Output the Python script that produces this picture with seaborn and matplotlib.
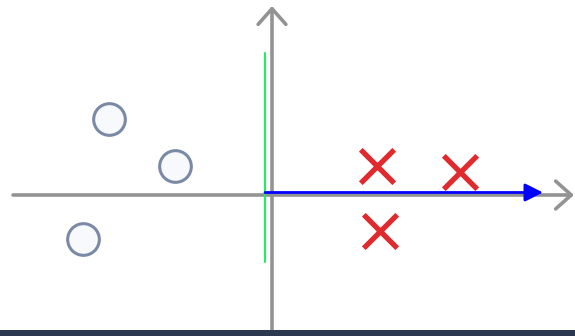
import pandas as pd
import matplotlib.pyplot as plt
import seaborn as sns
from matplotlib.patches import Rectangle

# points, origin at the axis crossing
circle_x = [-3.26, -1.95, -3.78]
circle_y = [1.52, 0.58, -0.88]
cross_x = [2.09, 3.75, 2.16]
cross_y = [0.58, 0.46, -0.72]

# separating line and normal vector
line_x = -0.15
line_y = [-1.34, 2.84]
normal_start = [-0.14, 0.05]
normal_end = [5.42, 0.05]

circles = pd.DataFrame({"x": circle_x, "y": circle_y})
crosses = pd.DataFrame({"x": cross_x, "y": cross_y})

sns.set_style("white")
fig = plt.figure(figsize=(5.75, 3.36), dpi=100)
ax = fig.add_axes([0, 0, 1, 1])
ax.set_xlim(-5.44, 6.06)
ax.set_ylim(-2.82, 3.9)
ax.axis("off")

gray = "#939393"
# x axis
ax.annotate("", xy=(6.04, 0), xytext=(-5.18, 0),
            arrowprops=dict(arrowstyle="->,head_length=0.45,head_width=0.4",
                            color=gray, lw=2.6, mutation_scale=25,
                            shrinkA=0, shrinkB=0), zorder=1)
# y axis
ax.annotate("", xy=(0, 3.78), xytext=(0, -2.75),
            arrowprops=dict(arrowstyle="->,head_length=0.45,head_width=0.4",
                            color=gray, lw=2.6, mutation_scale=25,
                            shrinkA=0, shrinkB=0), zorder=1)

ax.plot([line_x, line_x], line_y, color="#22ec66", lw=1.5, zorder=2)
ax.annotate("", xy=normal_end, xytext=normal_start,
            arrowprops=dict(arrowstyle="-|>,head_length=0.6,head_width=0.3",
                            color="#0000ff", lw=2.0, mutation_scale=18,
                            shrinkA=0, shrinkB=0), zorder=3)

sns.scatterplot(data=circles, x="x", y="y", ax=ax, marker="o", s=520,
                facecolor="#f7f9fd", edgecolor="#7a89a6", linewidth=2.2,
                zorder=4, legend=False)
sns.scatterplot(data=crosses, x="x", y="y", ax=ax, marker="x", s=580,
                color="#e02a2e", linewidth=3.8, zorder=4, legend=False)

fig.add_artist(Rectangle((0, 0), 1, 6 / 336, transform=fig.transFigure,
                         facecolor="#2b3850", edgecolor="none", zorder=10))

fig.savefig("out.png", dpi=100)
